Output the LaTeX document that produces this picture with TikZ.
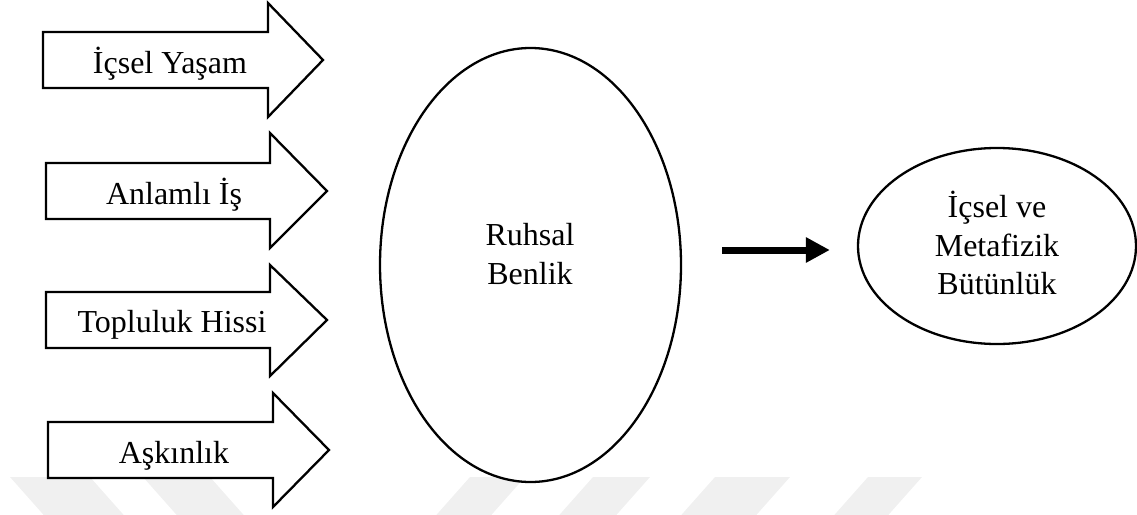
\documentclass[tikz,border=0pt]{standalone}
\usepackage{fontspec}
\setmainfont{Liberation Serif}
\usetikzlibrary{shapes.geometric,arrows.meta}
\tikzset{
  lbl/.style={font=\fontsize{32pt}{39pt}\selectfont, inner sep=0pt, anchor=base},
  inarrow/.style={draw=black, fill=white, line width=2.3pt, miter limit=20},
  oval/.style={ellipse, draw=black, fill=white, line width=2.3pt, inner sep=0pt},
  bigarrow/.style={line width=7pt, -{Triangle[length=24pt,width=24pt]}},
  wmark/.style={fill=black!6, draw=none}
}
\begin{document}
\begin{tikzpicture}[x=1pt,y=-1pt]
\useasboundingbox (0,0) rectangle (1137,514);
% faint watermark stripes
\begin{scope}
\clip (0,0) rectangle (1137,514);
\fill[wmark] (10,477) -- (90,477) -- (137,530) -- (57,530) -- cycle;
\fill[wmark] (143,477) -- (210,477) -- (257,530) -- (190,530) -- cycle;
\fill[wmark] (470,477) -- (525,477) -- (478,530) -- (423,530) -- cycle;
\fill[wmark] (593,477) -- (650,477) -- (603,530) -- (546,530) -- cycle;
\fill[wmark] (715,477) -- (790,477) -- (743,530) -- (668,530) -- cycle;
\fill[wmark] (868,477) -- (922,477) -- (875,530) -- (821,530) -- cycle;
\end{scope}
% input arrows
\draw[inarrow] (43,32) -- (268,32) -- (268,3) -- (323,60) -- (268,117) -- (268,88) -- (43,88) -- cycle;
\draw[inarrow] (46,163) -- (270,163) -- (270,133) -- (327,191) -- (270,248) -- (270,219) -- (46,219) -- cycle;
\draw[inarrow] (46,292) -- (270,292) -- (270,265) -- (327,320) -- (270,376) -- (270,348) -- (46,348) -- cycle;
\draw[inarrow] (48,422) -- (273,422) -- (273,393) -- (329,450) -- (273,507) -- (273,478) -- (48,478) -- cycle;
\node[lbl] (t1) at (170,73) {İçsel Yaşam};
\node[lbl] (t2) at (174,204) {Anlamlı İş};
\node[lbl] (t3) at (172,332) {Topluluk Hissi};
\node[lbl] (t4) at (174,463) {Aşkınlık};
% central ellipse
\node[oval, minimum width=301pt, minimum height=434pt] (rb) at (530.5,265) {};
\node[lbl] (rb1) at (530,245) {Ruhsal};
\node[lbl] (rb2) at (530,284) {Benlik};
% result ellipse
\node[oval, minimum width=278pt, minimum height=196pt] (ib) at (997,246) {};
\node[lbl] (ib1) at (997,217) {İçsel ve};
\node[lbl] (ib2) at (997,256) {Metafizik};
\node[lbl] (ib3) at (997,294) {Bütünlük};
% connector
\draw[bigarrow, shorten <=40pt, shorten >=27pt] ([yshift=-4pt]rb.east |- ib.west) -- ([yshift=-4pt]ib.west);
\end{tikzpicture}
\end{document}
